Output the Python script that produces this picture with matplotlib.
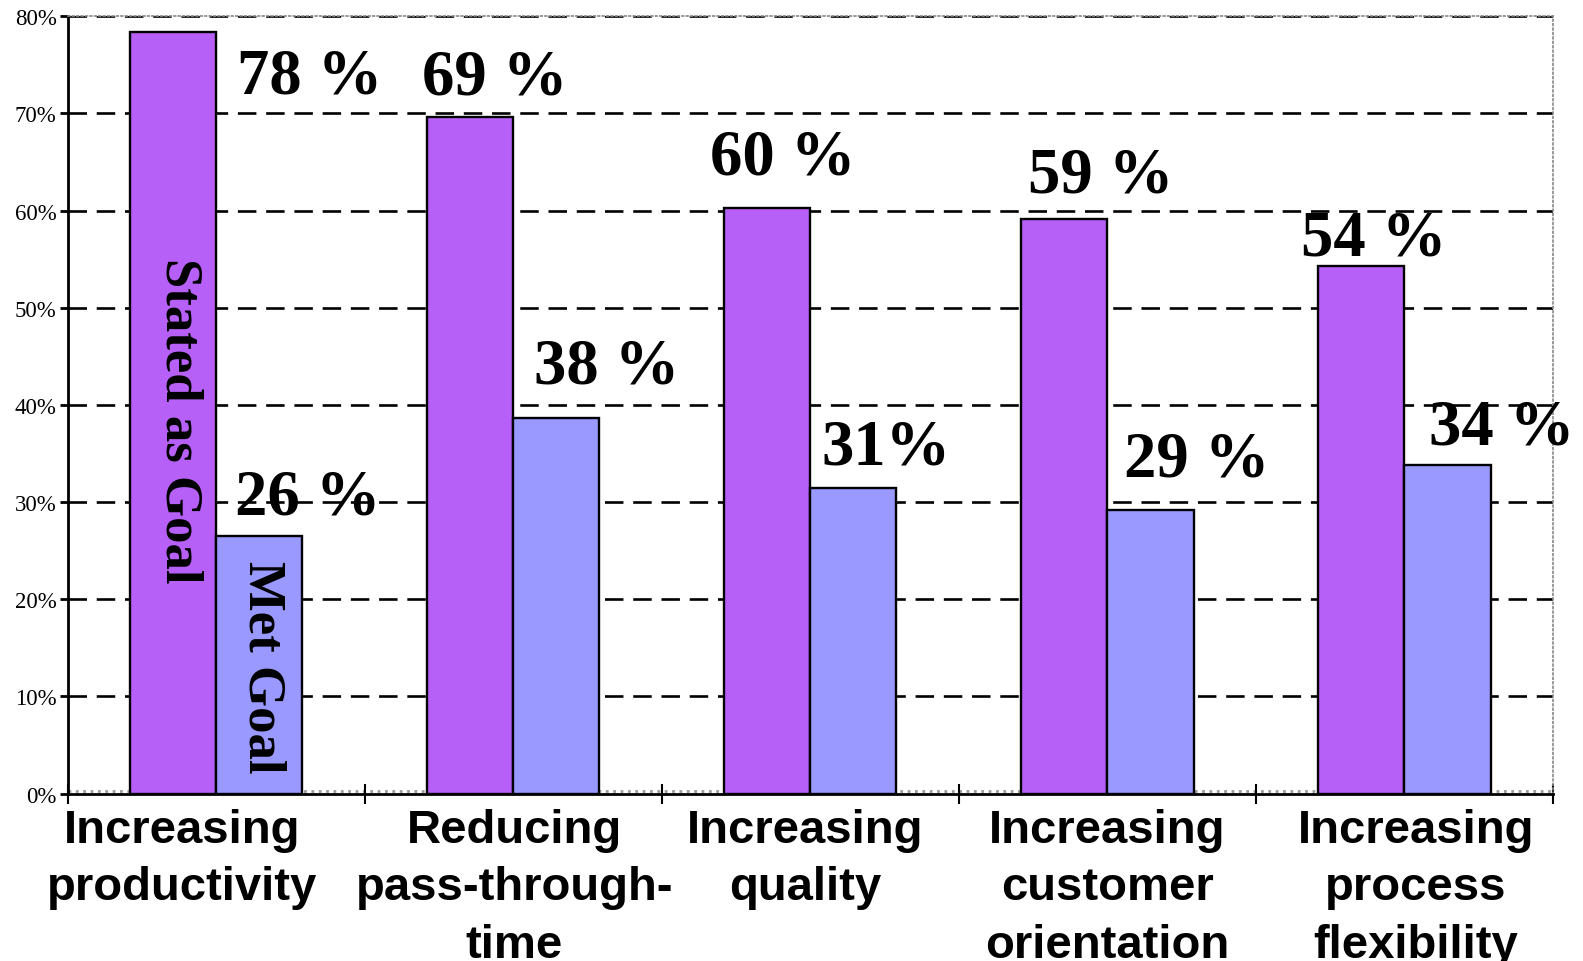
import numpy as np
import matplotlib.pyplot as plt
from matplotlib.transforms import blended_transform_factory

categories = ["Increasing\nproductivity", "Reducing\npass-through-\ntime", "Increasing\nquality",
              "Increasing\ncustomer\norientation", "Increasing\nprocess\nflexibility"]
stated = [78.4, 69.6, 60.3, 59.1, 54.3]
met = [26.5, 38.7, 31.5, 29.2, 33.8]
stated_labels = ["78 %", "69 %", "60 %", "59 %", "54 %"]
met_labels = ["26 %", "38 %", "31%", "29 %", "34 %"]

# label placement (data coords: x, baseline y)
stated_pos = [(0.315, 72.2), (0.936, 72.1), (1.907, 63.8), (2.979, 62.0), (3.896, 55.5)]
met_pos = [(0.308, 28.8), (1.313, 42.3), (2.256, 34.0), (3.302, 32.7), (4.327, 36.05)]
cat_x = [-0.116, 1.004, 1.981, 2.999, 4.038]

serif = "Liberation Serif"
sans = "Liberation Sans"

fig = plt.figure(figsize=(15.83, 9.62), dpi=100)
ax = fig.add_axes([0.0428, 0.174, 0.9382, 0.808])

x = np.arange(len(categories))
w = 0.29
ax.bar(x - w / 2, stated, width=w, color="#b760f8", edgecolor="black", linewidth=1.7, zorder=2)
ax.bar(x + w / 2, met, width=w, color="#9999ff", edgecolor="black", linewidth=1.7, zorder=2)

ax.set_xlim(-0.5, len(categories) - 0.5)
ax.set_ylim(0, 80)
ax.set_yticks(np.arange(0, 81, 10))
ax.set_yticklabels([f"{v}%" for v in range(0, 81, 10)], fontfamily=serif, fontsize=16.5)
ax.tick_params(axis="y", direction="out", length=6, width=2, pad=2)
ax.set_xticks(np.arange(-0.5, len(categories), 1))
ax.set_xticklabels([])
ax.tick_params(axis="x", direction="inout", length=14, width=1.5)

for yv in range(10, 81, 10):
    ax.axhline(yv, color="black", lw=1.9, ls=(0, (7, 3.7)), zorder=1)

ax.spines["left"].set_linewidth(2)
ax.spines["bottom"].set_linewidth(2)
for s in ["top", "right"]:
    ax.spines[s].set_color("#888888")
    ax.spines[s].set_linestyle(":")
    ax.spines[s].set_linewidth(1.2)
ax.axhline(0.25, color="#999999", lw=2, ls=":", zorder=1)

for (px, py), t in zip(stated_pos, stated_labels):
    ax.text(px, py, t, ha="center", va="baseline", fontfamily=serif, fontweight="bold", fontsize=46.5)
for (px, py), t in zip(met_pos, met_labels):
    ax.text(px, py, t, ha="center", va="baseline", fontfamily=serif, fontweight="bold", fontsize=46.5)

ax.text(-0.123, 38.5, "Stated as Goal", rotation=-90, ha="center", va="center",
        fontfamily=serif, fontweight="bold", fontsize=38)
ax.text(0.155, 13.1, "Met Goal", rotation=-90, ha="center", va="center",
        fontfamily=serif, fontweight="bold", fontsize=38)

trans = blended_transform_factory(ax.transData, ax.transAxes)
for cx, c in zip(cat_x, categories):
    ax.text(cx, -0.018, c, transform=trans, ha="center", va="top", fontfamily=sans,
            fontweight="bold", fontsize=34, linespacing=1.4, clip_on=False)

fig.savefig("out.png", dpi=100)
